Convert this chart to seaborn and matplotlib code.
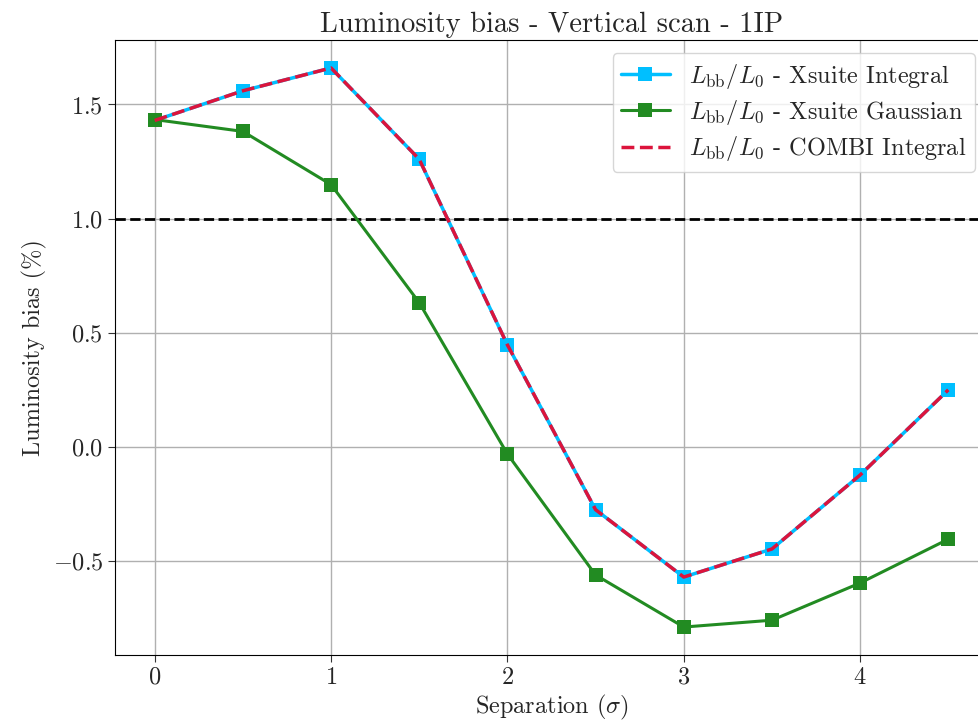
import numpy as np
import pandas as pd
import matplotlib
matplotlib.use("Agg")
import matplotlib.pyplot as plt
import seaborn as sns

separation = [0.0, 0.5, 1.0, 1.5, 2.0, 2.5, 3.0, 3.5, 4.0, 4.5]
xsuite_integral = [1.43, 1.56, 1.66, 1.26, 0.447, -0.275, -0.57, -0.447, -0.123, 0.25]
xsuite_gaussian = [1.434, 1.382, 1.149, 0.632, -0.031, -0.561, -0.789, -0.759, -0.596, -0.404]
combi_integral = [1.43, 1.56, 1.66, 1.26, 0.447, -0.275, -0.57, -0.447, -0.123, 0.25]
labels = [r"$L_{\rm bb}/L_0$ - Xsuite Integral",
          r"$L_{\rm bb}/L_0$ - Xsuite Gaussian",
          r"$L_{\rm bb}/L_0$ - COMBI Integral"]

sns.set_style("ticks")
plt.rcParams.update({
    "font.family": "serif",
    "font.serif": ["cmr10"],
    "mathtext.fontset": "cm",
    "axes.formatter.use_mathtext": True,
    "axes.unicode_minus": True,
    "font.size": 17.5,
})

df = pd.DataFrame({"sep": separation, "xi": xsuite_integral,
                   "xg": xsuite_gaussian, "ci": combi_integral})

fig = plt.figure(figsize=(9.79, 7.23), dpi=100)
ax = fig.add_axes([115/979, 1-655/723, 873/979, 615/723])

ax.axhline(1.0, color="black", ls="--", lw=2, zorder=1)
sns.lineplot(data=df, x="sep", y="xi", ax=ax, color="deepskyblue", marker="s",
             markersize=10, markeredgewidth=0, lw=2.5, label=labels[0])
sns.lineplot(data=df, x="sep", y="xg", ax=ax, color="forestgreen", marker="s",
             markersize=10, markeredgewidth=0, lw=2.2, label=labels[1])
sns.lineplot(data=df, x="sep", y="ci", ax=ax, color="crimson", ls="--",
             lw=2.5, label=labels[2])

ax.grid(True, color="#b0b0b0", lw=1)
ax.set_axisbelow(True)
for s in ax.spines.values():
    s.set_color("black")
ax.set_xticks([0, 1, 2, 3, 4])
ax.set_yticks([-0.5, 0.0, 0.5, 1.0, 1.5])
ax.tick_params(labelsize=17.5, length=5, color="#333333")
ax.set_xlabel(r"Separation ($\sigma$)", fontsize=17.5, labelpad=3)
ax.set_ylabel(r"Luminosity bias (%)", fontsize=17.5)
ax.set_title("Luminosity bias - Vertical scan - 1IP", fontsize=20.5)
leg = ax.legend(loc="upper right", bbox_to_anchor=(975/979, 1-53/723),
                bbox_transform=fig.transFigure, fontsize=17.5, frameon=True,
                handlelength=2.0, borderaxespad=0, labelspacing=0.3,
                borderpad=0.35)

fig.savefig("out.png", dpi=100)
